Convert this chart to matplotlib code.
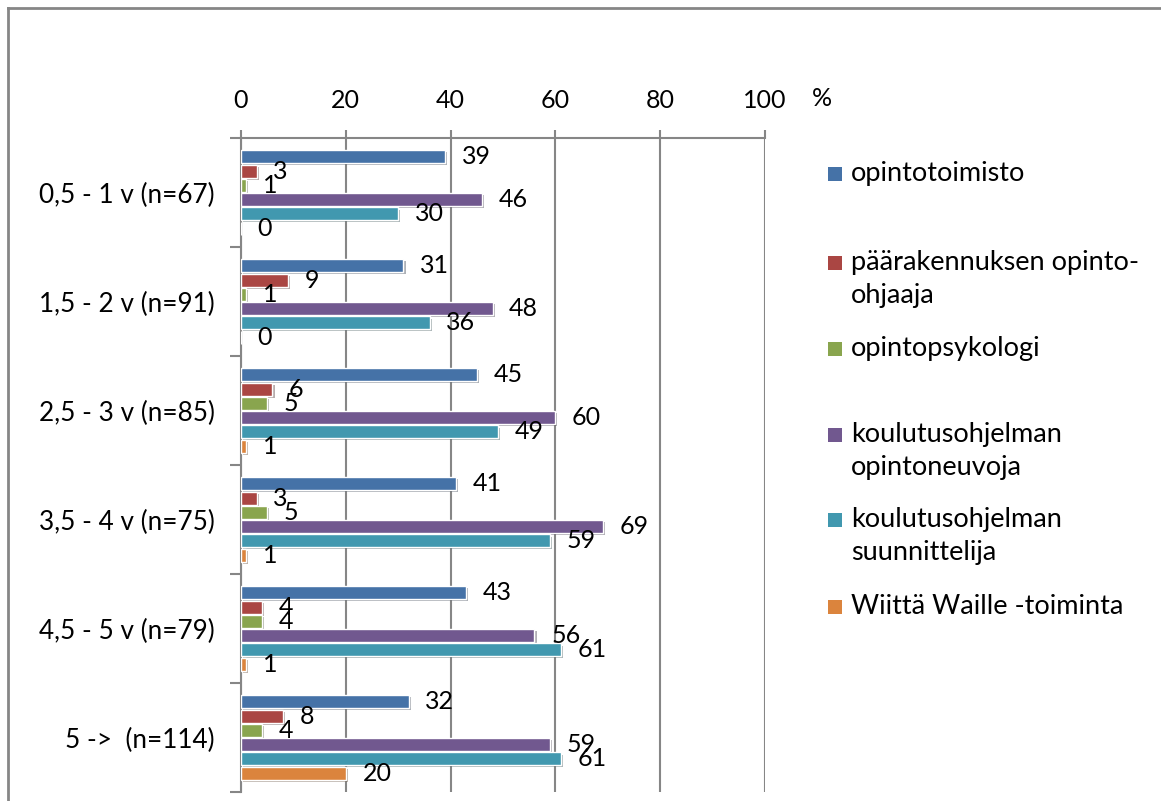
import matplotlib
matplotlib.use("Agg")
import matplotlib.pyplot as plt
import matplotlib.patheffects as pe
from matplotlib.lines import Line2D
from matplotlib.patches import Rectangle
import numpy as np

plt.rcParams['font.family'] = ['Lato', 'DejaVu Sans']

categories = ["0,5 - 1 v (n=67)", "1,5 - 2 v (n=91)", "2,5 - 3 v (n=85)",
              "3,5 - 4 v (n=75)", "4,5 - 5 v (n=79)", "5 ->  (n=114)"]
series_names = ["opintotoimisto", "päärakennuksen opinto-\nohjaaja", "opintopsykologi",
                "koulutusohjelman\nopintoneuvoja", "koulutusohjelman\nsuunnittelija",
                "Wiittä Waille -toiminta"]
opintotoimisto = [39, 31, 45, 41, 43, 32]
paarakennus = [3, 9, 6, 3, 4, 8]
opintopsykologi = [1, 1, 5, 5, 4, 4]
opintoneuvoja = [46, 48, 60, 69, 56, 59]
suunnittelija = [30, 36, 49, 59, 61, 61]
wiitta = [0, 0, 1, 1, 1, 20]
series_values = [opintotoimisto, paarakennus, opintopsykologi, opintoneuvoja, suunnittelija, wiitta]
colors = ["#4572A7", "#AA4643", "#89A54E", "#71588F", "#4198AF", "#DB843D"]
xticks = [0, 20, 40, 60, 80, 100]

W, H = 1161, 801
fig = plt.figure(figsize=(W / 100, H / 100), dpi=100)
ax = fig.add_axes([241 / W, 1 - 792 / H, (765 - 241) / W, (792 - 138) / H])

grid_c = "#868686"
step = 0.131
bh = 0.118
y = np.arange(len(categories))
shadow = [pe.SimplePatchShadow(offset=(1.5, -1.5), alpha=0.35), pe.Normal()]
for j, (vals, c) in enumerate(zip(series_values, colors)):
    pos = y + (j - 2.5) * step
    bars = ax.barh(pos, vals, height=bh, color=c, edgecolor="white", linewidth=1.0, zorder=3)
    for b in bars:
        b.set_path_effects(shadow)
    for p, v in zip(pos, vals):
        ax.annotate(str(v), xy=(v, p), xytext=(12, 0), textcoords="offset points",
                    ha="left", va="center", fontsize=18, color="black", zorder=4)

ax.set_xlim(0, 100)
ax.set_ylim(len(categories) - 0.5, -0.5)
ax.xaxis.tick_top()
ax.set_xticks(xticks)
ax.set_xticklabels([str(t) for t in xticks], fontsize=18)
ax.tick_params(axis="x", which="major", direction="out", length=6, width=1.5, color=grid_c, pad=13)
ax.grid(axis="x", color=grid_c, linewidth=1.5, zorder=0)
ax.set_yticks(y)
ax.set_yticklabels(categories, fontsize=18.8)
ax.tick_params(axis="y", which="major", length=0, pad=19)
ax.set_yticks(np.arange(-0.5, len(categories) + 0.5, 1), minor=True)
ax.tick_params(axis="y", which="minor", direction="out", length=8, width=1.5, color=grid_c)
for s in ["right", "bottom"]:
    ax.spines[s].set_visible(False)
for s in ["left", "top"]:
    ax.spines[s].set_color(grid_c)
    ax.spines[s].set_linewidth(1.5)
ax.set_axisbelow(True)

fig.text(812 / W, 1 - 99 / H, "%", fontsize=18, ha="left", va="center")

# legend
legend_y = [174, 263, 349, 435, 520, 607]
for name, c, ly in zip(series_names, colors, legend_y):
    fig.patches.append(Rectangle((828 / W, 1 - (ly + 7) / H), 14 / W, 14 / H,
                                 transform=fig.transFigure, facecolor=c, edgecolor="none"))
    fig.text(851 / W, 1 - (ly - 13) / H, name, fontsize=19.5, ha="left", va="top",
             linespacing=1.42)

# outer frame
fig.add_artist(Line2D([8 / W, 8 / W], [0, 1 - 8 / H], color=grid_c, linewidth=2, transform=fig.transFigure))
fig.add_artist(Line2D([8 / W, 1], [1 - 8 / H, 1 - 8 / H], color=grid_c, linewidth=2, transform=fig.transFigure))

fig.savefig("out.png", dpi=100)
